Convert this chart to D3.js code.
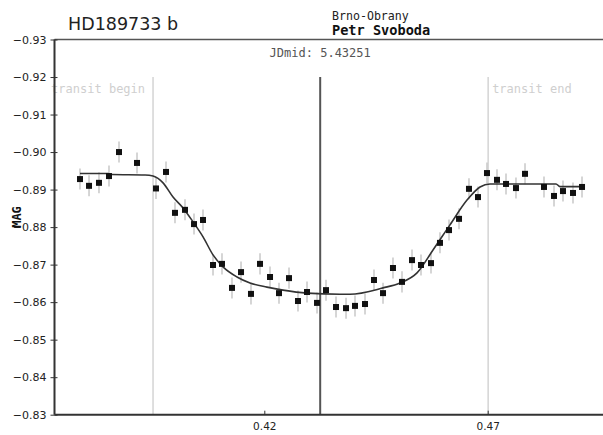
<!DOCTYPE html>
<html>
<head>
<meta charset="utf-8">
<script src="https://cdn.jsdelivr.net/npm/d3@7"></script>
<style>
  body { margin: 0; background: #fff; }
  svg { display: block; }
</style>
</head>
<body>
<div id="chart"></div>
<script>
// observation times (JD fraction) and magnitudes
const obsTime = [0.37875, 0.38077, 0.3830, 0.38524, 0.38748, 0.39151, 0.39576, 0.3980, 0.40001, 0.40225,
  0.40427, 0.40628, 0.40852, 0.41053, 0.41277, 0.41479, 0.41702, 0.41904, 0.42128, 0.42329,
  0.42553, 0.42754, 0.42956, 0.4318, 0.43381, 0.43605, 0.43829, 0.4403, 0.44254, 0.44455,
  0.44657, 0.4488, 0.45082, 0.45306, 0.45507, 0.45731, 0.45932, 0.46134, 0.46358, 0.46581,
  0.46783, 0.46984, 0.47208, 0.4741, 0.47633, 0.47835, 0.4826, 0.48484, 0.48685, 0.48909, 0.49111];
const obsMag = [-0.8928, -0.8910, -0.8918, -0.8936, -0.9000, -0.8971, -0.8903, -0.8947, -0.8838, -0.8846,
  -0.8808, -0.8819, -0.8699, -0.8702, -0.8638, -0.8680, -0.8622, -0.8702, -0.8667, -0.8624,
  -0.8664, -0.8603, -0.8627, -0.8598, -0.8632, -0.8587, -0.8584, -0.8590, -0.8595, -0.8659,
  -0.8624, -0.8691, -0.8654, -0.8712, -0.8699, -0.8704, -0.8758, -0.8792, -0.8822, -0.8902,
  -0.8880, -0.8944, -0.8926, -0.8915, -0.8904, -0.8942, -0.8907, -0.8883, -0.8896, -0.8891, -0.8907];
const magErr = 0.0028;

// fitted model curve
const modelTime = [0.37875, 0.38502, 0.38592, 0.39331, 0.39510, 0.39734, 0.39957, 0.40181, 0.40405, 0.40629,
  0.40852, 0.41076, 0.41389, 0.41680, 0.42060, 0.42419, 0.42956, 0.43694, 0.43918, 0.44657,
  0.45037, 0.45418, 0.45776, 0.46156, 0.46537, 0.46828, 0.47052, 0.48529, 0.48618, 0.49133];
const modelMag = [-0.8943, -0.8943, -0.8940, -0.8939, -0.8936, -0.8918, -0.8880, -0.8851, -0.8814, -0.8774,
  -0.8726, -0.8694, -0.8667, -0.8651, -0.8640, -0.8632, -0.8624, -0.8621, -0.8621, -0.8638,
  -0.8651, -0.8678, -0.8739, -0.8806, -0.8872, -0.8907, -0.8915, -0.8915, -0.8908, -0.8908];

const yTicks = [-0.93, -0.92, -0.91, -0.90, -0.89, -0.88, -0.87, -0.86, -0.85, -0.84, -0.83];
const yTickLabels = ["\u22120.93", "\u22120.92", "\u22120.91", "\u22120.90", "\u22120.89", "\u22120.88",
  "\u22120.87", "\u22120.86", "\u22120.85", "\u22120.84", "\u22120.83"];
const xTicks = [0.42, 0.47];
const xTickLabels = ["0.42", "0.47"];

const transitBegin = 0.3951;
const transitEnd = 0.4701;
const jdMid = 0.43251;

const width = 603;
const height = 435;
const plotLeft = 54.5, plotRight = 603, plotTop = 39.5, plotBottom = 414.7;

const mono = "'DejaVu Sans Mono', monospace";
const sans = "'DejaVu Sans', Verdana, sans-serif";

const svg = d3.select("#chart")
  .append("svg")
  .attr("width", width)
  .attr("height", height);

const x0 = d3.scaleLinear().domain([0.42, 0.47]).range([264.3, 487.7]);
const x = d3.scaleLinear().domain([x0.invert(plotLeft), x0.invert(plotRight)]).range([plotLeft, plotRight]);
const y = d3.scaleLinear().domain([-0.93, -0.83]).range([plotTop, plotBottom]);

// titles
svg.append("text").attr("x", 68).attr("y", 30)
  .attr("font-family", sans).attr("font-size", 17.5).attr("fill", "#222")
  .text("HD189733 b");
svg.append("text").attr("x", 332).attr("y", 20)
  .attr("font-family", mono).attr("font-size", 11.6).attr("fill", "#222")
  .text("Brno-Obrany");
svg.append("text").attr("x", 332).attr("y", 35)
  .attr("font-family", mono).attr("font-size", 13.6).attr("font-weight", "bold").attr("fill", "#111")
  .text("Petr Svoboda");
svg.append("text").attr("x", x(jdMid)).attr("y", 57)
  .attr("text-anchor", "middle")
  .attr("font-family", mono).attr("font-size", 12).attr("fill", "#555")
  .text("JDmid: 5.43251");

// transit markers
const lineTop = y(-0.92);
[[transitBegin, "transit begin", "end", -8], [transitEnd, "transit end", "start", 4]].forEach(([t, label, anchor, dx]) => {
  svg.append("line")
    .attr("x1", x(t)).attr("x2", x(t))
    .attr("y1", lineTop).attr("y2", plotBottom)
    .attr("stroke", "#d4d4d4").attr("stroke-width", 1.5);
  svg.append("text")
    .attr("x", x(t) + dx).attr("y", 93)
    .attr("text-anchor", anchor)
    .attr("font-family", mono).attr("font-size", 12).attr("fill", "#cfcfcf")
    .text(label);
});

svg.append("line")
  .attr("x1", x(jdMid)).attr("x2", x(jdMid))
  .attr("y1", lineTop).attr("y2", plotBottom)
  .attr("stroke", "#555").attr("stroke-width", 2);

// error bars
const obs = obsTime.map((t, i) => ({ t, m: obsMag[i] }));
svg.selectAll(".err")
  .data(obs)
  .enter()
  .append("line")
  .attr("class", "err")
  .attr("x1", (d) => x(d.t)).attr("x2", (d) => x(d.t))
  .attr("y1", (d) => y(d.m - magErr)).attr("y2", (d) => y(d.m + magErr))
  .attr("stroke", "#c8c8c8").attr("stroke-width", 1.5);

// model
const model = modelTime.map((t, i) => ({ t, m: modelMag[i] }));
svg.append("path")
  .datum(model)
  .attr("fill", "none")
  .attr("stroke", "#333")
  .attr("stroke-width", 1.6)
  .attr("d", d3.line().x((d) => x(d.t)).y((d) => y(d.m)).curve(d3.curveMonotoneX));

// points
svg.selectAll(".pt")
  .data(obs)
  .enter()
  .append("rect")
  .attr("class", "pt")
  .attr("x", (d) => x(d.t) - 3)
  .attr("y", (d) => y(d.m) - 3)
  .attr("width", 6)
  .attr("height", 6)
  .attr("fill", "#111");

// frame
svg.append("line").attr("x1", plotLeft).attr("x2", plotRight).attr("y1", plotTop).attr("y2", plotTop)
  .attr("stroke", "#555").attr("stroke-width", 1.5);

const yAxis = d3.axisLeft(y)
  .tickValues(yTicks)
  .tickSize(4)
  .tickPadding(4)
  .tickFormat((d, i) => yTickLabels[i]);
const gy = svg.append("g")
  .attr("transform", `translate(${plotLeft},0)`)
  .call(yAxis);
gy.select(".domain").attr("stroke", "#333").attr("stroke-width", 2).attr("d", `M0,${plotTop}V${plotBottom}`);
gy.selectAll(".tick line").attr("stroke", "#333").attr("x1", 3);
gy.selectAll(".tick text")
  .attr("font-family", sans).attr("font-size", 11).attr("fill", "#222");

const xAxis = d3.axisBottom(x)
  .tickValues(xTicks)
  .tickSize(-4)
  .tickPadding(8)
  .tickFormat((d, i) => xTickLabels[i]);
const gx = svg.append("g")
  .attr("transform", `translate(0,${plotBottom})`)
  .call(xAxis);
gx.select(".domain").attr("stroke", "#333").attr("stroke-width", 2).attr("d", `M${plotLeft},0H${plotRight}`);
gx.selectAll(".tick line").attr("stroke", "#333");
gx.selectAll(".tick text")
  .attr("font-family", sans).attr("font-size", 10.5).attr("fill", "#222");

// y label
svg.append("text")
  .attr("transform", `translate(21,217) rotate(-90)`)
  .attr("text-anchor", "middle")
  .attr("font-family", mono).attr("font-size", 12).attr("font-weight", "bold").attr("fill", "#111")
  .text("MAG");
</script>
</body>
</html>
